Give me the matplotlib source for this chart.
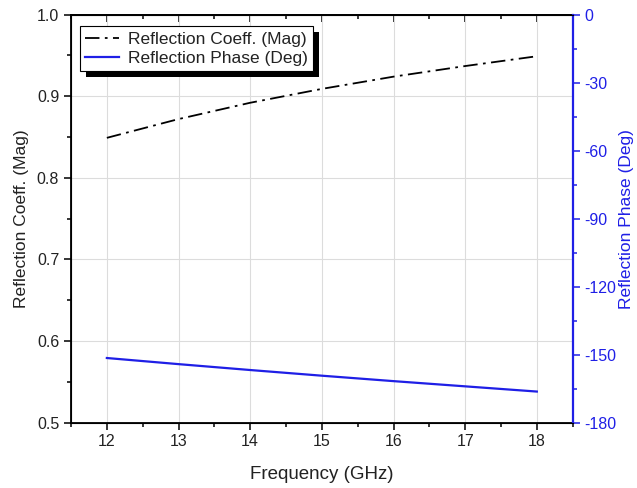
import numpy as np
import matplotlib.pyplot as plt
from matplotlib.ticker import MultipleLocator
import matplotlib.patheffects as pe

plt.rcParams['font.family'] = ['Liberation Sans', 'DejaVu Sans']
plt.rcParams['axes.unicode_minus'] = False

freq = [12, 13, 14, 15, 16, 17, 18]
mag = [0.849, 0.872, 0.892, 0.909, 0.924, 0.937, 0.949]
phase = [-151.5, -154.2, -156.8, -159.3, -161.7, -164.0, -166.3]

blue = '#1f1fe6'
txt = '#222222'

fig, ax = plt.subplots(figsize=(6.37, 4.88), dpi=100)
fig.subplots_adjust(left=0.1115, right=0.899, top=0.970, bottom=0.134)

l1, = ax.plot(freq, mag, color='black', linestyle=(0, (8, 3, 1.5, 3)), lw=1.3,
              label='Reflection Coeff. (Mag)')
ax.set_xlim(11.5, 18.5)
ax.set_ylim(0.5, 1.0)
ax.xaxis.set_major_locator(MultipleLocator(1))
ax.xaxis.set_minor_locator(MultipleLocator(0.5))
ax.yaxis.set_minor_locator(MultipleLocator(0.05))
ax.set_yticks(np.arange(0.5, 1.01, 0.1))
ax.set_yticklabels(['0.5', '0.6', '0.7', '0.8', '0.9', '1.0'])
ax.grid(True, which='major', color='#dcdcdc', lw=0.8)
ax.set_axisbelow(True)
ax.tick_params(which='both', direction='out', labelsize=11.5, labelcolor=txt)
ax.tick_params(which='major', length=5, width=1.1)
ax.tick_params(which='minor', length=3, width=1.1)
# top ticks point inward
sec = ax.secondary_xaxis('top')
sec.xaxis.set_major_locator(MultipleLocator(1))
sec.xaxis.set_minor_locator(MultipleLocator(0.5))
sec.tick_params(which='both', direction='in', labeltop=False, width=1.1)
sec.tick_params(which='major', length=5)
sec.tick_params(which='minor', length=3)
sec.spines['top'].set_linewidth(1.3)
ax.set_xlabel('Frequency (GHz)', fontsize=13.5, color=txt, labelpad=12)
ax.set_ylabel('Reflection Coeff. (Mag)', fontsize=12.5, color=txt, labelpad=6)
for s in ax.spines.values():
    s.set_linewidth(1.3)

ax2 = ax.twinx()
l2, = ax2.plot(freq, phase, color=blue, lw=1.6, label='Reflection Phase (Deg)')
ax2.set_ylim(-180, 0)
ax2.yaxis.set_major_locator(MultipleLocator(30))
ax2.yaxis.set_minor_locator(MultipleLocator(15))
ax2.tick_params(axis='y', which='both', colors=blue, labelsize=11.5, direction='out', width=1.1)
ax2.tick_params(which='major', length=5)
ax2.tick_params(which='minor', length=3)
ax2.spines['right'].set_color(blue)
ax2.spines['right'].set_linewidth(1.6)
ax2.set_ylabel('Reflection Phase (Deg)', fontsize=12.5, color=blue)
ax2.yaxis.set_label_coords(1.093, 0.5)

leg = ax.legend(handles=[l1, l2], loc='upper left', bbox_to_anchor=(0.01, 0.98),
                fontsize=12.5, frameon=True, fancybox=False,
                edgecolor='black', handlelength=2.0, borderpad=0.3,
                labelspacing=0.25, handletextpad=0.5, borderaxespad=0.2)
frame = leg.get_frame()
frame.set_linewidth(0.8)
frame.set_alpha(1)
frame.set_path_effects([pe.SimplePatchShadow(offset=(4.5, -4), shadow_rgbFace='black', alpha=1),
                        pe.Normal()])
for t in leg.get_texts():
    t.set_color(txt)

fig.savefig('out.png', dpi=100)
